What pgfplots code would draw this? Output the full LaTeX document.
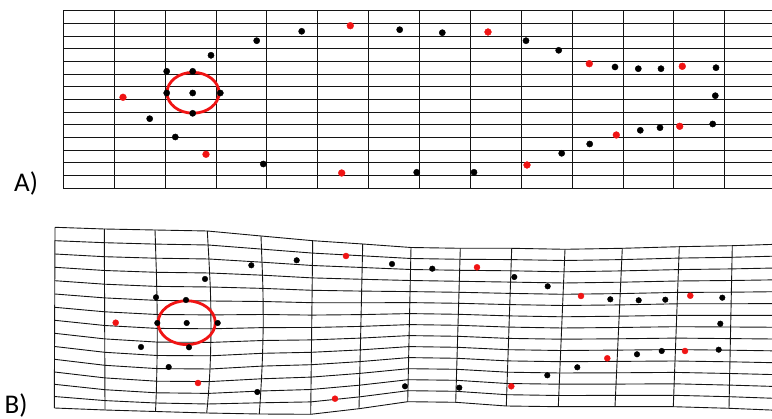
\documentclass[border=0pt]{standalone}
\usepackage{pgfplots}
\pgfplotsset{compat=1.18}
\usepackage{fontspec}
\setmainfont{Carlito}
\definecolor{dotred}{RGB}{240,20,20}
\pgfplotsset{
  gl/.style={black!92, line width=0.9pt, no marks, forget plot},
}
\begin{document}
\begin{tikzpicture}
\path[use as bounding box] (0,0) rectangle (772pt,419pt);
\begin{axis}[
  at={(0,0)}, anchor=south west,
  scale only axis, width=772pt, height=419pt,
  xmin=0, xmax=772, ymin=0, ymax=419, y dir=reverse,
  hide axis, clip=true,
]
% ---------------- Panel A : regular grid ----------------
% vertical lines
\addplot[gl] coordinates {(63.3,10.7) (63.3,188.3)};
\addplot[gl] coordinates {(114.2,10.7) (114.2,188.3)};
\addplot[gl] coordinates {(165.1,10.7) (165.1,188.3)};
\addplot[gl] coordinates {(216.0,10.7) (216.0,188.3)};
\addplot[gl] coordinates {(266.9,10.7) (266.9,188.3)};
\addplot[gl] coordinates {(317.8,10.7) (317.8,188.3)};
\addplot[gl] coordinates {(368.7,10.7) (368.7,188.3)};
\addplot[gl] coordinates {(419.5,10.7) (419.5,188.3)};
\addplot[gl] coordinates {(470.4,10.7) (470.4,188.3)};
\addplot[gl] coordinates {(521.3,10.7) (521.3,188.3)};
\addplot[gl] coordinates {(572.3,10.7) (572.3,188.3)};
\addplot[gl] coordinates {(623.2,10.7) (623.2,188.3)};
\addplot[gl] coordinates {(673.9,10.7) (673.9,188.3)};
\addplot[gl] coordinates {(724.6,10.7) (724.6,188.3)};
% horizontal lines
\addplot[gl] coordinates {(63.3,10.7) (772,10.7)};
\addplot[gl] coordinates {(63.3,23.4) (772,23.4)};
\addplot[gl] coordinates {(63.3,36.1) (772,36.1)};
\addplot[gl] coordinates {(63.3,48.8) (772,48.8)};
\addplot[gl] coordinates {(63.3,61.5) (772,61.5)};
\addplot[gl] coordinates {(63.3,74.1) (772,74.1)};
\addplot[gl] coordinates {(63.3,86.8) (772,86.8)};
\addplot[gl] coordinates {(63.3,99.5) (772,99.5)};
\addplot[gl] coordinates {(63.3,112.2) (772,112.2)};
\addplot[gl] coordinates {(63.3,124.9) (772,124.9)};
\addplot[gl] coordinates {(63.3,137.6) (772,137.6)};
\addplot[gl] coordinates {(63.3,150.3) (772,150.3)};
\addplot[gl] coordinates {(63.3,162.9) (772,162.9)};
\addplot[gl] coordinates {(63.3,175.6) (772,175.6)};
\addplot[gl] coordinates {(63.3,188.3) (772,188.3)};

% ---------------- Panel B : warped grid ----------------
% vertical lines
\addplot[gl] coordinates {(55.0,227.3) (54.3,408.0)};
\addplot[gl] coordinates {(104.3,229.0) (105.0,410.0)};
\addplot[gl] coordinates {(155.0,230.0) (155.5,244.1) (155.9,258.2) (156.4,272.3) (156.7,286.4) (157.0,300.4) (157.2,314.5) (157.3,328.4) (157.2,342.1) (157.1,355.5) (156.9,368.6) (156.6,381.2) (156.3,392.8) (155.9,403.0) (155.5,411.5)};
\addplot[gl] coordinates {(207.3,231.0) (208.1,245.0) (208.9,259.0) (209.6,273.0) (210.3,287.0) (210.7,301.0) (210.9,314.9) (211.0,328.8) (210.8,342.4) (210.5,355.8) (210.0,369.0) (209.3,381.6) (208.5,393.4) (207.6,404.0) (206.7,413.0)};
\addplot[gl] coordinates {(261.0,236.0) (261.5,249.1) (262.0,262.2) (262.5,275.2) (262.9,288.4) (263.1,301.5) (263.2,314.5) (263.2,327.6) (262.9,340.5) (262.6,353.3) (262.1,366.1) (261.5,378.8) (260.8,391.0) (260.1,402.8) (259.3,414.0)};
\addplot[gl] coordinates {(312.7,240.7) (310.7,414.3)};
\addplot[gl] coordinates {(362.7,244.0) (359.0,408.7)};
\addplot[gl] coordinates {(411.0,247.5) (407.7,401.7)};
\addplot[gl] coordinates {(460.3,248.3) (455.7,402.3)};
\addplot[gl] coordinates {(511.7,248.3) (506.3,406.0)};
\addplot[gl] coordinates {(565.0,249.3) (558.3,406.7)};
\addplot[gl] coordinates {(622.3,248.3) (615.0,406.7)};
\addplot[gl] coordinates {(679.3,246.7) (673.3,406.7)};
\addplot[gl] coordinates {(732.3,245.7) (729.0,408.3)};
\addplot[gl] coordinates {(785.0,244.0) (782.0,410.5)};
% horizontal lines
\addplot[gl] coordinates {(55.0,227.3) (104.3,229.0) (155.0,230.0) (207.3,231.0) (261.0,236.0) (312.7,240.7) (362.7,244.0) (411.0,247.5) (460.3,248.3) (511.7,248.3) (565.0,249.3) (622.3,248.3) (679.3,246.7) (732.3,245.7) (785.0,244.0)};
\addplot[gl] coordinates {(55.0,240.7) (104.4,242.7) (155.5,244.1) (208.1,245.0) (261.5,249.1) (312.6,253.1) (362.4,255.8) (410.8,258.5) (460.0,259.3) (511.3,259.6) (564.5,260.5) (621.8,259.6) (678.9,258.1) (732.1,257.3) (784.8,255.9)};
\addplot[gl] coordinates {(54.9,254.0) (104.4,256.7) (155.9,258.2) (208.9,259.0) (262.0,262.2) (312.4,265.5) (362.2,267.5) (410.5,269.5) (459.6,270.3) (510.9,270.8) (564.0,271.8) (621.3,270.9) (678.4,269.6) (731.8,268.9) (784.6,267.8)};
\addplot[gl] coordinates {(54.9,267.3) (104.5,270.5) (156.4,272.3) (209.6,273.0) (262.5,275.2) (312.3,277.9) (361.9,279.3) (410.3,280.5) (459.3,281.3) (510.5,282.1) (563.6,283.0) (620.7,282.2) (678.0,281.0) (731.6,280.5) (784.4,279.7)};
\addplot[gl] coordinates {(54.8,280.7) (104.5,284.2) (156.7,286.4) (210.3,287.0) (262.9,288.4) (312.1,290.3) (361.6,291.1) (410.1,291.6) (459.0,292.3) (510.2,293.4) (563.1,294.3) (620.2,293.6) (677.6,292.4) (731.4,292.2) (784.1,291.6)};
\addplot[gl] coordinates {(54.8,294.0) (104.6,297.9) (157.0,300.4) (210.7,301.0) (263.1,301.5) (312.0,302.7) (361.4,302.8) (409.8,302.6) (458.6,303.3) (509.8,304.6) (562.6,305.5) (619.7,304.9) (677.2,303.8) (731.1,303.8) (783.9,303.5)};
\addplot[gl] coordinates {(54.7,307.3) (104.6,311.8) (157.2,314.5) (210.9,314.9) (263.2,314.5) (311.8,315.1) (361.1,314.6) (409.6,313.6) (458.3,314.3) (509.4,315.9) (562.1,316.8) (619.2,316.2) (676.7,315.3) (730.9,315.4) (783.7,315.4)};
\addplot[gl] coordinates {(54.7,320.3) (104.7,325.5) (157.3,328.4) (211.0,328.8) (263.2,327.6) (311.7,327.5) (360.9,326.4) (409.4,324.6) (458.0,325.3) (509.0,327.1) (561.6,328.0) (618.7,327.5) (676.3,326.7) (730.7,327.0) (783.5,327.3)};
\addplot[gl] coordinates {(54.6,333.3) (104.7,338.9) (157.2,342.1) (210.8,342.4) (262.9,340.5) (311.6,339.9) (360.6,338.1) (409.1,335.6) (457.7,336.3) (508.6,338.4) (561.2,339.2) (618.1,338.8) (675.9,338.1) (730.4,338.6) (783.3,339.1)};
\addplot[gl] coordinates {(54.6,346.5) (104.8,352.3) (157.1,355.5) (210.5,355.8) (262.6,353.3) (311.4,352.3) (360.3,349.9) (408.9,346.6) (457.3,347.3) (508.2,349.7) (560.7,350.5) (617.6,350.1) (675.4,349.6) (730.2,350.2) (783.1,351.0)};
\addplot[gl] coordinates {(54.5,359.3) (104.8,365.3) (156.9,368.6) (210.0,369.0) (262.1,366.1) (311.3,364.7) (360.1,361.6) (408.6,357.6) (457.0,358.3) (507.8,360.9) (560.2,361.7) (617.1,361.4) (675.0,361.0) (729.9,361.8) (782.9,362.9)};
\addplot[gl] coordinates {(54.5,372.0) (104.9,377.9) (156.6,381.2) (209.3,381.6) (261.5,378.8) (311.1,377.1) (359.8,373.4) (408.4,368.7) (456.7,369.3) (507.5,372.2) (559.7,373.0) (616.6,372.8) (674.6,372.4) (729.7,373.5) (782.6,374.8)};
\addplot[gl] coordinates {(54.4,384.3) (104.9,389.7) (156.3,392.8) (208.5,393.4) (260.8,391.0) (311.0,389.5) (359.5,385.2) (408.2,379.7) (456.4,380.3) (507.1,383.5) (559.3,384.2) (616.0,384.1) (674.2,383.8) (729.5,385.1) (782.4,386.7)};
\addplot[gl] coordinates {(54.4,396.5) (105.0,400.6) (155.9,403.0) (207.6,404.0) (260.1,402.8) (310.8,401.9) (359.3,396.9) (407.9,390.7) (456.0,391.3) (506.7,394.7) (558.8,395.5) (615.5,395.4) (673.7,395.3) (729.2,396.7) (782.2,398.6)};
\addplot[gl] coordinates {(54.3,408.0) (105.0,410.0) (155.5,411.5) (206.7,413.0) (259.3,414.0) (310.7,414.3) (359.0,408.7) (407.7,401.7) (455.7,402.3) (506.3,406.0) (558.3,406.7) (615.0,406.7) (673.3,406.7) (729.0,408.3) (782.0,410.5)};

% ---------------- red ellipses ----------------
\addplot[only marks, mark=o, mark size=20.4pt,
  mark options={xscale=1.275, draw=dotred, line width=2.8pt, fill=none}, forget plot]
  coordinates {(193.0,92.8)};
\addplot[only marks, mark=o, mark size=21.9pt,
  mark options={xscale=1.306, draw=dotred, line width=2.8pt, fill=none}, forget plot]
  coordinates {(186.7,322.7)};

% ---------------- Panel A points ----------------
\addplot[only marks, mark=*, mark size=3.1pt, mark options={draw=black, fill=black}] coordinates {
(166.7,71.3) (192.7,71.3) (211,55.3) (256.7,40.7) (301.7,31.3) (166.7,93) (192.7,93)
(220.3,93) (192.7,113.3) (149.7,118.7) (175.3,137) (263.3,164) (399.7,29.7) (442.3,32.7)
(526,40.7) (558.7,50.3) (615,67) (638.3,68.7) (661,68.7) (716,67.7) (715.3,95.7)
(712.7,124) (660,127.7) (640.3,130.3) (589.7,144) (561.7,153.3) (474,172.3) (416.7,172.3)};
\addplot[only marks, mark=*, mark size=3.4pt, mark options={draw=dotred, fill=dotred}] coordinates {
(123,97.3) (350.3,25.7) (206,154.3) (341.7,173) (488,32) (589.3,63.7) (682.3,66.3)
(679.7,126.3) (616.3,135) (527,165)};

% ---------------- Panel B points ----------------
\addplot[only marks, mark=*, mark size=2.8pt, mark options={draw=black, fill=black}] coordinates {
(156,297.3) (186,300) (205,279) (251.3,265.3) (296.7,260.3) (392,264) (157.3,323)
(186.7,323) (217.7,323) (189,347.3) (141,347) (168.7,367) (257.3,392) (432.3,268.7)
(514.3,277) (547.7,286.3) (610.3,299.3) (638.7,300.3) (665.3,299.7) (722.3,297.7)
(720.3,323.7) (718.7,349.7) (661.7,351) (637,354.3) (577.3,367.3) (547.3,375.3)
(459.3,387.7) (405,386.3)};
\addplot[only marks, mark=*, mark size=3.0pt, mark options={draw=dotred, fill=dotred}] coordinates {
(115.7,322.7) (346,256) (198,383) (335,398.7) (477,267.3) (581,296) (690.3,295.7)
(685,351) (607.3,358.3) (511.3,386.3)};

% ---------------- panel labels ----------------
\node[anchor=base west, inner sep=0pt, font=\fontsize{27}{30}\selectfont] at (axis cs:14,191.7) {A)};
\node[anchor=base west, inner sep=0pt, font=\fontsize{27}{30}\selectfont] at (axis cs:4.4,413.2) {B)};
\end{axis}
\end{tikzpicture}
\end{document}
